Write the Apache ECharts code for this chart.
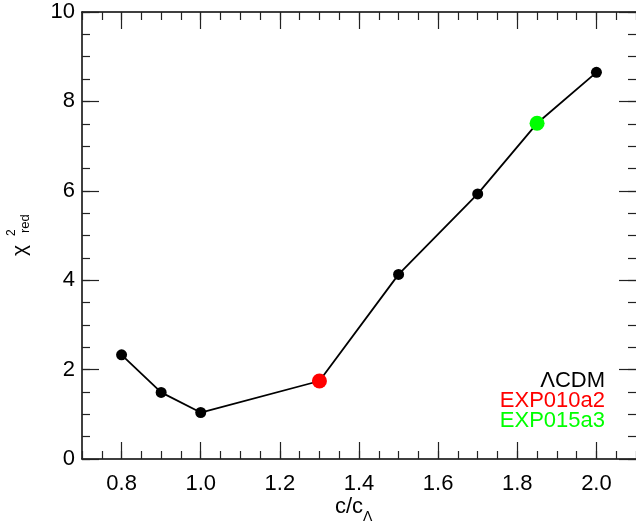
<!DOCTYPE html>
<html><head><meta charset="utf-8">
<script src="https://cdn.jsdelivr.net/npm/echarts@6/dist/echarts.min.js"></script>
<style>html,body{margin:0;padding:0;background:#fff}#c{width:636px;height:521px}</style>
</head><body><div id="c"></div>
<script>
const xValues = [0.8, 0.9, 1.0, 1.3, 1.5, 1.7, 1.85, 2.0];
const yValues = [2.33, 1.49, 1.04, 1.745, 4.13, 5.93, 7.51, 8.65];
const pointColors = ['#000000', '#000000', '#000000', '#ff0000', '#000000', '#000000', '#00ff00', '#000000'];
const xTickLabels = [0.8, 1.0, 1.2, 1.4, 1.6, 1.8, 2.0];
const yTickLabels = [0, 2, 4, 6, 8, 10];
const legendItems = ['ΛCDM', 'EXP010a2', 'EXP015a3'];
const legendColors = ['#000000', '#ff0000', '#00ff00'];

const FONT = "'Liberation Sans', Arial, Helvetica, sans-serif";
const chart = echarts.init(document.getElementById('c'));

function minorAxis(pos, min, max, interval, showLine) {
  return {
    type: 'value', position: pos, min: min, max: max, interval: interval,
    axisLine: { show: showLine, onZero: false, lineStyle: { color: '#000', width: 1.5 } },
    axisTick: { show: true, inside: true, length: 8, lineStyle: { color: '#222', width: 1.2 } },
    axisLabel: { show: false }, splitLine: { show: false }
  };
}
function majorAxis(pos, min, max, ticks, showLabels, fmt, margin) {
  return {
    type: 'value', position: pos, min: min, max: max,
    axisLine: { show: false, onZero: false },
    axisTick: { show: true, inside: true, length: 17, customValues: ticks, lineStyle: { color: '#222', width: 1.2 } },
    axisLabel: { show: showLabels, customValues: ticks, formatter: fmt, fontSize: 22, color: '#000', fontFamily: FONT, margin: margin },
    splitLine: { show: false }
  };
}

const legendGraphics = legendItems.map((t, i) => ({
  type: 'text', x: 605, y: 380.6 + i * 20,
  style: { text: t, fill: legendColors[i], font: '22px ' + FONT, textAlign: 'right', textVerticalAlign: 'middle' }
}));

chart.setOption({
  animation: false,
  backgroundColor: '#ffffff',
  grid: { left: 82, top: 12, right: 0, bottom: 62, containLabel: false },
  xAxis: [
    minorAxis('bottom', 0.7, 2.1, 0.05, true),
    majorAxis('bottom', 0.7, 2.1, xTickLabels, true, v => Number(v).toFixed(1), 14),
    minorAxis('top', 0.7, 2.1, 0.05, true),
    majorAxis('top', 0.7, 2.1, xTickLabels, false, null, 8)
  ],
  yAxis: [
    minorAxis('left', 0, 10, 0.5, true),
    majorAxis('left', 0, 10, yTickLabels, true, v => String(Math.round(v)), 7),
    minorAxis('right', 0, 10, 0.5, false),
    majorAxis('right', 0, 10, yTickLabels, false, null, 8)
  ],
  series: [{
    type: 'line', xAxisIndex: 0, yAxisIndex: 0,
    symbol: 'circle',
    lineStyle: { color: '#000', width: 1.8 },
    data: xValues.map((x, i) => ({
      value: [x, yValues[i]],
      symbolSize: pointColors[i] === '#000000' ? 11 : 15,
      itemStyle: { color: pointColors[i] }
    }))
  }],
  graphic: [
    ...legendGraphics,
    { type: 'text', x: 363, y: 506.5, style: { text: 'c/c', fill: '#000', font: '22px ' + FONT, textAlign: 'right', textVerticalAlign: 'middle' } },
    { type: 'text', x: 363, y: 517, style: { text: 'Λ', fill: '#000', font: '14px ' + FONT, textAlign: 'left', textVerticalAlign: 'middle' } },
    { type: 'group', x: 27, y: 256, rotation: Math.PI / 2, children: [
      { type: 'text', x: 0, y: -6.3, style: { text: 'χ', fill: '#000', font: '21px ' + FONT, textAlign: 'left', textVerticalAlign: 'middle' } },
      { type: 'text', x: 20, y: -15.5, style: { text: '2', fill: '#000', font: '12px ' + FONT, textAlign: 'left', textVerticalAlign: 'middle' } },
      { type: 'text', x: 23, y: -1.5, style: { text: 'red', fill: '#000', font: '13px ' + FONT, textAlign: 'left', textVerticalAlign: 'middle' } }
    ] }
  ]
});
</script>
</body></html>
